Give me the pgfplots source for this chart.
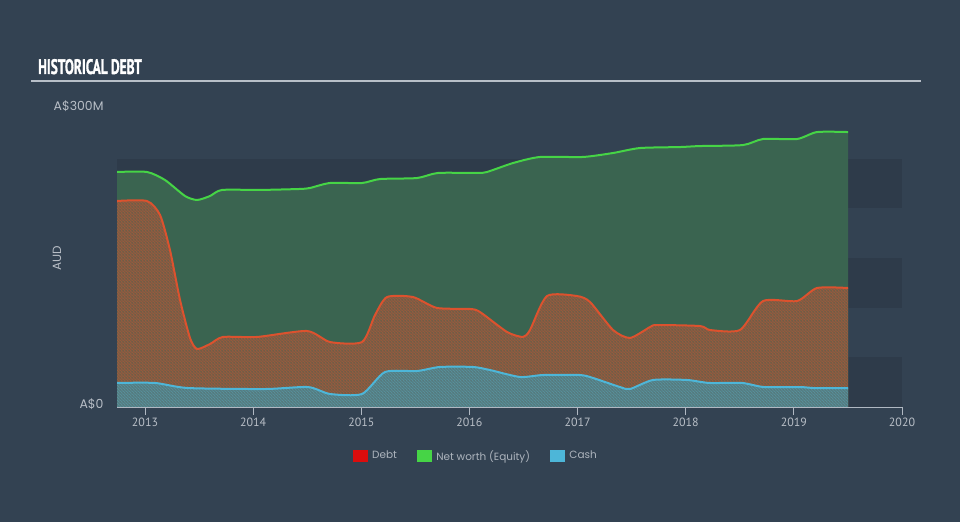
\documentclass[border=0pt]{standalone}
\usepackage{pgfplots}
\pgfplotsset{compat=1.18}
\usepackage{fontspec}
\usepackage{graphicx}
\usetikzlibrary{patterns.meta}
\setmainfont{Poppins}
\newfontfamily\ptsans{PT Sans}
\newfontfamily\titlefont[FakeBold=1.5]{PT Sans Bold}
\definecolor{bg}{HTML}{334252}
\definecolor{band}{HTML}{2E3B4A}
\definecolor{eqfill}{HTML}{3A6450}
\definecolor{debtbase}{HTML}{50604F}
\definecolor{debtstripe}{HTML}{A05A3C}
\definecolor{cashbase}{HTML}{536765}
\definecolor{cashstripe}{HTML}{5894A0}
\definecolor{eqline}{HTML}{46D446}
\definecolor{debtline}{HTML}{DC522E}
\definecolor{cashline}{HTML}{4DB6D8}
\definecolor{txt}{HTML}{B8BEC6}
\definecolor{axisc}{HTML}{B0B8C2}
\tikzdeclarepattern{
  name=hatch, type=uncolored,
  bounding box={(0bp,0bp) and (3bp,3bp)},
  tile size={(3bp,3bp)},
  code={\pgfsetlinewidth{1.05bp}
    \pgfpathmoveto{\pgfpoint{-1bp}{4bp}}\pgfpathlineto{\pgfpoint{4bp}{-1bp}}
    \pgfpathmoveto{\pgfpoint{-1bp}{1bp}}\pgfpathlineto{\pgfpoint{1bp}{-1bp}}
    \pgfpathmoveto{\pgfpoint{2bp}{4bp}}\pgfpathlineto{\pgfpoint{4bp}{2bp}}
    \pgfusepath{stroke}}
}
\begin{document}
\begin{tikzpicture}
\fill[bg] (0bp,0bp) rectangle (960bp,522bp);
\draw[color=axisc!90, line width=2bp] (31bp,440.5bp) -- (921bp,440.5bp);
\node[anchor=base west, inner sep=0, text=white] at (38bp,448bp) {\scalebox{0.64}[1]{\fontsize{21}{21}\selectfont\titlefont HISTORICAL DEBT}};
\begin{axis}[
  at={(117bp,115bp)}, anchor=south west,
  scale only axis, width=785bp, height=298bp,
  xmin=2012.741, xmax=2020, ymin=0, ymax=300,
  axis x line*=bottom, axis y line*=left,
  y axis line style={draw=none},
  x axis line style={color=axisc, line width=1.2bp},
  xtick={2013,2014,2015,2016,2017,2018,2019,2020},
  xticklabels={2013,2014,2015,2016,2017,2018,2019,2020},
  xtick style={color=axisc, line width=1bp},
  tick align=outside, major tick length=8bp,
  xticklabel style={font=\ptsans\fontsize{12}{12}\selectfont, text=txt, yshift=1bp},
  ytick={0,300}, yticklabels={A\$0,A\$300M},
  ytick style={draw=none},
  yticklabel style={font=\fontsize{12.5}{12.5}\selectfont, text=txt, anchor=base east, xshift=-2bp, yshift=-2bp},
  ylabel={AUD},
  ylabel style={at={(axis description cs:-0.0764,0.5)}, anchor=center, font=\fontsize{12}{12}\selectfont, text=txt},
  legend columns=3,
  legend style={at={(axis description cs:0.457,-0.164)}, anchor=center, draw=none, fill=none,
    font=\fontsize{10.5}{10.5}\selectfont, text=txt!115,
    /tikz/every even column/.append style={column sep=18bp}},
  /pgf/number format/assume math mode=true,
]
\fill[band] (axis cs:2012.741,0) rectangle (axis cs:2020,50);
\fill[band] (axis cs:2012.741,100) rectangle (axis cs:2020,150);
\fill[band] (axis cs:2012.741,200) rectangle (axis cs:2020,250);

% Equity area
\addplot[draw=none, fill=eqfill, smooth, tension=0.4, forget plot] coordinates {
(2012.741,236.6) (2013.018,236.6) (2013.185,228.5) (2013.37,212.4) (2013.481,208.4)
(2013.601,212.4) (2013.712,218.5) (2014.063,218.5) (2014.433,219.5) (2014.526,220.5)
(2014.711,225.5) (2015.007,225.5) (2015.173,229.5) (2015.515,230.5) (2015.709,235.6)
(2016.07,235.6) (2016.163,236.6) (2016.403,245.6) (2016.653,251.7) (2017.05,251.7)
(2017.328,255.7) (2017.577,260.7) (2017.947,261.7) (2018.132,262.7) (2018.53,263.7)
(2018.715,269.8) (2019.03,269.8) (2019.214,276.8) (2019.501,276.8)} \closedcycle;

% Debt area
\addplot[draw=none, fill=debtbase, postaction={pattern={hatch}, pattern color=debtstripe}, smooth, tension=0.4, forget plot] coordinates {
(2012.741,207.4) (2013.018,207.4) (2013.139,193.3) (2013.231,158) (2013.324,107.7)
(2013.416,69.5) (2013.481,58.4) (2013.601,63.4) (2013.721,70.5) (2014.036,70.5)
(2014.498,76.5) (2014.711,65.4) (2015.007,65.4) (2015.127,92.6) (2015.238,110.7)
(2015.478,110.7) (2015.7,99.7) (2016.005,98.7) (2016.098,95.6) (2016.348,75.5)
(2016.495,70.5) (2016.56,77.5) (2016.717,111.7) (2016.995,111.7) (2017.115,105.7)
(2017.328,77.5) (2017.485,69.5) (2017.67,80.5) (2017.735,82.5) (2018.132,81.5)
(2018.225,77.5) (2018.502,77.5) (2018.715,106.7) (2019.03,106.7) (2019.214,119.8)
(2019.501,119.8)} \closedcycle;

% Cash area
\addplot[draw=none, fill=cashbase, postaction={pattern={hatch}, pattern color=cashstripe}, smooth, tension=0.4, forget plot] coordinates {
(2012.741,24.2) (2013.092,24.2) (2013.398,19.1) (2014.11,18.1) (2014.507,20.1)
(2014.711,13.1) (2015.007,13.1) (2015.219,35.2) (2015.515,36.2) (2015.728,40.3)
(2016.033,40.3) (2016.19,37.2) (2016.468,30.2) (2016.68,32.2) (2017.023,32.2)
(2017.143,29.2) (2017.392,20.1) (2017.485,18.1) (2017.698,27.2) (2018.012,27.2)
(2018.216,24.2) (2018.521,24.2) (2018.724,20.1) (2019.075,20.1) (2019.177,19.1)
(2019.501,19.1)} \closedcycle;

% Lines
\addplot[eqline, line width=2bp, smooth, tension=0.4, forget plot] coordinates {
(2012.741,236.6) (2013.018,236.6) (2013.185,228.5) (2013.37,212.4) (2013.481,208.4)
(2013.601,212.4) (2013.712,218.5) (2014.063,218.5) (2014.433,219.5) (2014.526,220.5)
(2014.711,225.5) (2015.007,225.5) (2015.173,229.5) (2015.515,230.5) (2015.709,235.6)
(2016.07,235.6) (2016.163,236.6) (2016.403,245.6) (2016.653,251.7) (2017.05,251.7)
(2017.328,255.7) (2017.577,260.7) (2017.947,261.7) (2018.132,262.7) (2018.53,263.7)
(2018.715,269.8) (2019.03,269.8) (2019.214,276.8) (2019.501,276.8)};
\addplot[debtline, line width=2bp, smooth, tension=0.4, forget plot] coordinates {
(2012.741,207.4) (2013.018,207.4) (2013.139,193.3) (2013.231,158) (2013.324,107.7)
(2013.416,69.5) (2013.481,58.4) (2013.601,63.4) (2013.721,70.5) (2014.036,70.5)
(2014.498,76.5) (2014.711,65.4) (2015.007,65.4) (2015.127,92.6) (2015.238,110.7)
(2015.478,110.7) (2015.7,99.7) (2016.005,98.7) (2016.098,95.6) (2016.348,75.5)
(2016.495,70.5) (2016.56,77.5) (2016.717,111.7) (2016.995,111.7) (2017.115,105.7)
(2017.328,77.5) (2017.485,69.5) (2017.67,80.5) (2017.735,82.5) (2018.132,81.5)
(2018.225,77.5) (2018.502,77.5) (2018.715,106.7) (2019.03,106.7) (2019.214,119.8)
(2019.501,119.8)};
\addplot[cashline, line width=2bp, smooth, tension=0.4, forget plot] coordinates {
(2012.741,24.2) (2013.092,24.2) (2013.398,19.1) (2014.11,18.1) (2014.507,20.1)
(2014.711,13.1) (2015.007,13.1) (2015.219,35.2) (2015.515,36.2) (2015.728,40.3)
(2016.033,40.3) (2016.19,37.2) (2016.468,30.2) (2016.68,32.2) (2017.023,32.2)
(2017.143,29.2) (2017.392,20.1) (2017.485,18.1) (2017.698,27.2) (2018.012,27.2)
(2018.216,24.2) (2018.521,24.2) (2018.724,20.1) (2019.075,20.1) (2019.177,19.1)
(2019.501,19.1)};

\addlegendimage{legend image code/.code={\fill[red!85!black!95!white] (0bp,-5.5bp) rectangle (14bp,5.5bp); \path (17bp,0bp);}}
\addlegendentry{Debt}
\addlegendimage{legend image code/.code={\fill[eqline] (0bp,-5.5bp) rectangle (14bp,5.5bp); \path (17bp,0bp);}}
\addlegendentry{Net worth (Equity)}
\addlegendimage{legend image code/.code={\fill[cashline] (0bp,-5.5bp) rectangle (14bp,5.5bp); \path (17bp,0bp);}}
\addlegendentry{Cash}
\end{axis}
\end{tikzpicture}
\end{document}
